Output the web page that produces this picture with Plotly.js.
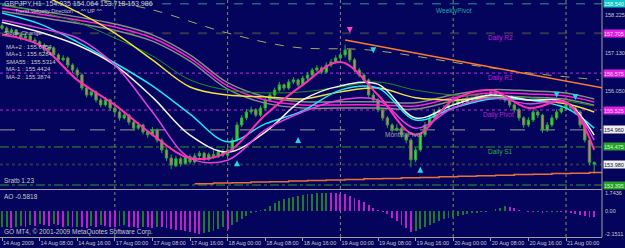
<!DOCTYPE html>
<html><head><meta charset="utf-8">
<script src="https://cdn.plot.ly/plotly-3.0.1.min.js"></script>
<style>html,body{margin:0;padding:0;background:#04045c;}#chart{width:625px;height:248px;}</style>
</head><body><div id="chart"></div>
<script>
// ---- data (GBPJPY H1, 14-21 Aug 2009) ----
const openP = [
157.92,157.85,157.74,157.80,157.66,157.57,157.63,157.51,157.46,157.37,
157.23,157.29,157.09,156.95,157.00,156.80,156.66,156.52,156.15,155.95,
156.04,155.81,155.67,155.81,155.58,155.47,155.30,155.38,155.18,155.01,
155.10,154.90,154.82,154.96,154.67,154.39,154.16,153.94,154.14,154.00,
154.20,154.05,154.22,154.30,154.12,154.26,154.20,154.34,154.24,154.39,
154.67,155.10,155.30,155.47,155.53,155.38,155.58,155.81,155.95,156.09,
156.24,156.15,156.32,156.38,156.24,156.43,156.52,156.66,156.72,156.60,
156.80,156.89,157.00,157.09,157.23,156.95,156.66,156.52,156.38,155.95,
155.81,155.53,155.30,155.10,154.96,155.01,154.82,154.67,154.11,154.39,
154.82,155.10,155.30,155.47,155.53,155.58,155.67,155.70,155.81,155.75,
155.87,155.81,155.92,155.87,155.95,156.04,155.95,155.87,155.81,155.67,
155.53,155.30,155.10,155.24,155.47,155.38,154.96,155.10,155.30,155.47,
155.58,155.67,155.58,155.47,155.10,154.67,154.035];
const highP = [
157.98,157.90,157.86,157.83,157.72,157.70,157.66,157.58,157.50,157.42,
157.36,157.33,157.14,157.08,157.04,156.85,156.73,156.58,156.22,156.12,
156.08,155.87,155.90,155.85,155.64,155.52,155.45,155.42,155.24,155.18,
155.14,154.96,155.04,155.00,154.72,154.45,154.26,154.22,154.20,154.26,
154.26,154.30,154.36,154.34,154.32,154.38,154.40,154.42,154.48,154.74,
155.18,155.38,155.55,155.62,155.58,155.65,155.88,156.02,156.16,156.32,
156.28,156.40,156.46,156.42,156.50,156.60,156.72,156.80,156.77,156.88,
156.97,157.08,157.18,157.38,157.27,157.00,156.72,156.58,156.42,156.02,
155.86,155.58,155.36,155.15,155.12,155.05,154.88,154.72,154.46,154.88,
155.18,155.36,155.54,155.60,155.66,155.74,155.78,155.88,155.86,155.94,
155.91,156.00,155.96,156.02,156.12,156.08,156.00,155.92,155.86,155.72,
155.58,155.35,155.32,155.55,155.52,155.42,155.18,155.38,155.55,155.66,
155.75,155.72,155.62,155.52,155.16,154.72,154.064];
const lowP = [
157.80,157.68,157.70,157.60,157.50,157.54,157.45,157.40,157.30,157.15,
157.18,157.02,156.88,156.90,156.72,156.58,156.44,156.08,155.88,155.90,
155.74,155.60,155.62,155.50,155.40,155.22,155.25,155.10,154.94,154.96,
154.83,154.74,154.78,154.60,154.30,154.08,153.85,153.90,153.92,153.96,
153.98,154.00,154.10,154.06,154.08,154.14,154.16,154.18,154.20,154.34,
154.62,155.04,155.24,155.40,155.32,155.33,155.52,155.76,155.90,156.04,
156.08,156.10,156.26,156.18,156.20,156.37,156.46,156.60,156.54,156.56,
156.74,156.84,156.94,157.02,156.88,156.60,156.45,156.30,155.88,155.74,
155.46,155.22,155.02,154.88,154.92,154.74,154.58,153.90,154.04,154.34,
154.76,155.04,155.24,155.40,155.46,155.52,155.60,155.64,155.68,155.70,
155.74,155.76,155.80,155.82,155.90,155.88,155.80,155.74,155.60,155.45,
155.22,155.02,155.04,155.18,155.30,154.88,154.90,155.04,155.24,155.42,
155.52,155.50,155.40,155.02,154.60,153.96,153.718];
const closeP = [
157.85,157.74,157.80,157.66,157.57,157.63,157.51,157.46,157.37,157.23,
157.29,157.09,156.95,157.00,156.80,156.66,156.52,156.15,155.95,156.04,
155.81,155.67,155.81,155.58,155.47,155.30,155.38,155.18,155.01,155.10,
154.90,154.82,154.96,154.67,154.39,154.16,153.96,154.14,154.00,154.20,
154.05,154.22,154.30,154.12,154.26,154.20,154.34,154.24,154.39,154.67,
155.10,155.30,155.47,155.53,155.38,155.58,155.81,155.95,156.09,156.24,
156.15,156.32,156.38,156.24,156.43,156.52,156.66,156.72,156.60,156.80,
156.89,157.00,157.09,157.23,156.95,156.66,156.52,156.38,155.95,155.81,
155.53,155.30,155.10,154.96,155.01,154.82,154.67,154.11,154.39,154.82,
155.10,155.30,155.47,155.53,155.58,155.67,155.70,155.81,155.75,155.87,
155.81,155.92,155.87,155.95,156.04,155.95,155.87,155.81,155.67,155.53,
155.30,155.10,155.24,155.47,155.38,154.96,155.10,155.30,155.47,155.58,
155.67,155.58,155.47,155.10,154.67,154.04,153.986];
const aoValues = [
-1.5,-1.45,-1.6,-1.5,-1.35,-1.45,-1.3,-1.35,-1.2,-1.3,
-1.35,-1.2,-1.3,-1.45,-1.35,-1.5,-1.45,-1.5,-1.6,-1.35,
-1.45,-1.3,-1.35,-1.45,-1.5,-1.35,-1.3,-1.45,-1.5,-1.6,
-1.45,-1.5,-1.6,-1.45,-1.5,-1.6,-1.7,-1.75,-1.8,-1.85,
-1.95,-2.05,-2.15,-2.1,-2.0,-1.85,-1.7,-1.5,-1.7,-1.3,
-1.0,-0.7,-0.4,-0.2,-0.05,0.1,0.25,0.5,0.8,1.0,
1.15,1.3,1.4,1.5,1.55,1.6,1.65,1.7,1.72,1.7436,
1.73,1.7,1.68,1.6,1.45,1.3,1.1,0.9,0.6,0.3,
0.1,-0.1,-0.3,-0.6,-0.9,-1.3,-1.6,-2.0,-1.9,-1.7,
-1.5,-1.3,-1.1,-0.9,-0.75,-0.6,-0.5,-0.4,-0.35,-0.3,
-0.2,-0.15,-0.1,-0.05,0.05,0.2,0.35,0.5,0.45,0.3,
0.15,0.0,-0.05,-0.1,-0.08,-0.12,-0.1,-0.06,-0.04,-0.08,
-0.1,-0.15,-0.25,-0.35,-0.45,-0.52,-0.5818];

// moving averages read at every 8th bar
const maBars = [0,8,16,24,32,40,48,56,64,72,80,88,96,104,112,120,126];
const maFast = [157.66,157.37,156.38,155.67,154.82,154.16,154.33,155.38,156.24,156.89,155.95,154.82,155.81,156.09,155.58,155.75,154.39];
const maMid = [158.08,157.85,157.57,156.80,155.47,154.16,154.10,154.96,155.47,155.81,155.81,155.01,155.58,155.87,155.70,155.72,154.67];
const maWhite = [158.02,157.74,157.37,156.80,155.89,154.81,154.33,154.90,155.81,156.21,156.26,155.30,155.67,155.95,155.81,155.75,154.81];
const maCyan = [158.28,157.97,157.46,156.86,156.21,155.41,154.62,155.13,155.50,156.09,156.15,155.24,155.58,155.84,155.81,155.58,155.01];
const maYellow = [158.93,158.79,158.31,157.71,156.95,156.18,155.95,155.90,155.84,156.04,156.15,155.87,155.81,155.87,155.81,155.70,155.47];
const maGreen = [158.51,158.31,158.02,157.57,157.06,156.38,156.09,156.01,156.04,156.18,156.32,156.09,155.95,155.92,155.87,155.78,155.64];
const maSlow = [158.42,158.25,158.08,157.88,157.57,157.00,156.21,155.81,155.67,155.67,155.67,155.64,155.87,156.01,155.98,155.92,155.75];
const bandUpper = [158.51,158.34,158.17,157.97,157.66,157.09,156.30,155.90,155.76,155.76,155.76,155.73,155.96,156.10,156.07,156.01,155.84];
const bandLower = [158.33,158.16,157.99,157.79,157.48,156.91,156.12,155.72,155.58,155.58,155.58,155.55,155.78,155.92,155.89,155.83,155.66];
const slowDashBars = [21,32,48,62,78,100,112,127];
const slowDash = [158.65,158.37,157.71,157.31,157.23,156.80,156.58,156.38];
const trendBars = [73,128];
const trendLine = [157.51,156.15];
const stairBars = [41,45,49,53,57,61,65,69,73,77,81,85,89,93,97,101,105,109,113,117,121,125,128];
const stairLine = [153.43,153.45,153.46,153.48,153.49,153.51,153.52,153.54,153.55,153.57,153.58,153.60,153.61,153.63,153.64,153.66,153.67,153.69,153.70,153.72,153.73,153.75,153.75];
const upArrowBars = [50,63,89];
const upArrowPrices = [154.10,154.76,153.91];
const downArrowBars = [79,118,122];
const downArrowPrices = [157.14,155.87,155.81];
const sellArrowBars = [74];
const sellArrowPrices = [157.71];

// levels
const levelPrices = [158.540,157.705,156.575,155.525,154.960,154.475,153.980,153.395];
const levelLabels = ['158.540','157.705','156.575','155.525','154.960','154.475','153.980','153.395'];
const levelNames = ['WeeklyPivot','Daily R2','Daily R1','Daily Pivot','MonthlyPivot','Daily S1','',''];
const daySeparators = [24,48,72,96,120];
const dateTickBars = [0,8,16,24,32,40,48,56,64,72,80,88,96,104,112,120];
const dateTickLabels = ['14 Aug 2009','14 Aug 08:00','14 Aug 16:00','17 Aug 00:00','17 Aug 08:00','17 Aug 16:00','18 Aug 00:00','18 Aug 08:00','18 Aug 16:00','19 Aug 00:00','19 Aug 08:00','19 Aug 16:00','20 Aug 00:00','20 Aug 08:00','20 Aug 16:00','21 Aug 00:00'];
const priceTickVals = [158.225,157.130,156.050];
const priceTickText = ['158.225','157.130','156.050'];
const aoTickVals = [1.7436,0,-2.1511];
const aoTickText = ['1.7436','0.00','-2.1511'];
const maLegend = ['MA+2 : 155.6754','MA+1 : 155.6284','SMA55 : 155.5314','MA-1 : 155.4424','MA-2 : 155.3874'];

// ---- drawing ----
const W = 602, H = 237;
const px = x => x / W;
const py = y => 1 - y / H;
const bars = closeP.map((_, i) => i);
const FONT = '"Liberation Sans", Arial, sans-serif';
const TXT = '#c8c8c8';

const traces = [];
traces.push({type:'candlestick', x:bars, open:openP, high:highP, low:lowP, close:closeP,
  xaxis:'x', yaxis:'y', hoverinfo:'skip', whiskerwidth:0,
  increasing:{line:{color:'#2faa2f',width:1}, fillcolor:'#3ed43e'},
  decreasing:{line:{color:'#2faa2f',width:1}, fillcolor:'#f0609c'}});
function line(xs, ys, color, width, dash, shape){
  traces.push({type:'scatter', mode:'lines', x:xs, y:ys, xaxis:'x', yaxis:'y', hoverinfo:'skip',
    line:{color:color, width:width, dash:dash||'solid', shape:shape||'spline', smoothing:1}});
}
line(slowDashBars, slowDash, '#a8a860', 1, 'dash');
line(maBars, bandUpper, '#8a8a8a', 1.5);
line(maBars, bandLower, '#8a8a8a', 1.5);
line(maBars, maSlow, '#ff20d0', 1.5);
line(maBars, maGreen, '#1f8f1f', 1);
line(maBars, maYellow, '#f0e040', 1.5);
line(maBars, maCyan, '#20e8f0', 1.5);
line(maBars, maWhite, '#f4f4f4', 1.5);
line(maBars, maMid, '#e040e0', 1.5);
line(maBars, maFast, '#ff30b0', 2);
line(trendBars, trendLine, '#ff7a30', 1.5, 'solid', 'linear');
line(stairBars, stairLine, '#e8703a', 1.5, 'solid', 'hv');
traces.push({type:'scatter', mode:'markers', x:upArrowBars, y:upArrowPrices, xaxis:'x', yaxis:'y', hoverinfo:'skip',
  marker:{symbol:'arrow-up', size:6, color:'#20d8e0'}});
traces.push({type:'scatter', mode:'markers', x:downArrowBars, y:downArrowPrices, xaxis:'x', yaxis:'y', hoverinfo:'skip',
  marker:{symbol:'arrow-down', size:6, color:'#20d8e0'}});
traces.push({type:'scatter', mode:'markers', x:sellArrowBars, y:sellArrowPrices, xaxis:'x', yaxis:'y', hoverinfo:'skip',
  marker:{symbol:'arrow-down', size:6, color:'#ff40c0'}});
traces.push({type:'bar', x:bars, y:aoValues, xaxis:'x', yaxis:'y2', hoverinfo:'skip', width:0.4,
  marker:{color:aoValues.map((v,i)=> i===0 || v>=aoValues[i-1] ? '#1f7a2a' : '#c020c8'), line:{width:0}}});

const levelStyles = [
  {color:'#2a9a90', dash:'dash', width:1, box:'#10c8c8', txt:'#e8ffff'},
  {color:'#34344e', dash:'dash', width:2, box:'#e020e0', txt:'#ffd0ff'},
  {color:'#9a20d0', dash:'dot', width:1.2, box:'#e020e0', txt:'#ffd0ff'},
  {color:'#d020d0', dash:'dot', width:1.2, box:'#e020e0', txt:'#ffd0ff'},
  {color:'#9a9a9a', dash:'longdash', width:1, box:'#f0f0f0', txt:'#101040'},
  {color:'#2a9a2a', dash:'dashdot', width:1, box:'#2aa02a', txt:'#c8ffc8'},
  {color:'#30304c', dash:'dot', width:2, box:'#f0f0f0', txt:'#101040'},
  {color:'#2a9a2a', dash:'dashdot', width:1, box:'#2aa02a', txt:'#c8ffc8'}];
const nameColors = ['#20a8a0','#c020d0','#c020d0','#c020d0','#a0a0a0','#30b030','',''];
const nameBars = [92,103,103,102,81,103,0,0];

const shapes = [];
const annotations = [];
levelPrices.forEach((p,i)=>{
  const s = levelStyles[i];
  shapes.push({type:'line', xref:'paper', x0:0, x1:1, yref:'y', y0:p, y1:p, layer:'below',
    line:{color:s.color, width:s.width, dash:s.dash}});
  annotations.push({xref:'paper', x:1, xanchor:'left', yref:'y', y:p, yanchor:'middle', text:levelLabels[i],
    showarrow:false, bgcolor:s.box, borderpad:0, xshift:1, height:7, width:21, align:'left',
    font:{family:FONT, size:5.5, color:s.txt}});
  if (levelNames[i]) annotations.push({xref:'x', x:nameBars[i], xanchor:'left', yref:'y', y:p, yanchor:'top', yshift:i===0?-1:1,
    text:levelNames[i], showarrow:false, font:{family:FONT, size:6.5, color:nameColors[i]}});
});
daySeparators.forEach(b=>{
  shapes.push({type:'line', xref:'x', x0:b, x1:b, yref:'paper', y0:0, y1:1, layer:'below',
    line:{color:'#8a8a62', width:1, dash:'dot'}});
});
shapes.push({type:'line', xref:'paper', x0:0, x1:1, yref:'paper', y0:py(189.5), y1:py(189.5), line:{color:'#a0a0a0', width:1}});
shapes.push({type:'line', xref:'paper', x0:1, x1:1, yref:'paper', y0:0, y1:1, line:{color:'#a0a0a0', width:1}});

function label(x, y, text, color, size){
  annotations.push({xref:'paper', yref:'paper', x:px(x), y:py(y), xanchor:'left', yanchor:'middle',
    text:text, showarrow:false, font:{family:FONT, size:size||6.5, color:color||TXT}});
}
label(2, 3.5, 'GBPJPY,H1  154.035 154.064 153.718 153.986', TXT, 7);
label(13, 11.5, 'Trend Velocity Direction  ~ ^^ UP ^^', TXT, 5.5);
label(2, 33, 'Slope Change', TXT, 6);
const maY = [47,54,62,69,77];
maLegend.forEach((t,i)=>label(4, maY[i], t, TXT, 6));
label(2, 180, 'Sratb 1.23', TXT, 6.5);
label(2, 196, 'AO -0.5818', TXT, 6.5);
label(2, 232, 'GO MT4, \u00a9 2001-2009 MetaQuotes Software Corp.', TXT, 6.5);

const layout = {
  width:625, height:248, margin:{l:0, r:23, t:0, b:11},
  paper_bgcolor:'#04045c', plot_bgcolor:'#04045c', showlegend:false, dragmode:false,
  font:{family:FONT, size:6, color:TXT},
  xaxis:{anchor:'y2', range:[-0.43,127.66], tickvals:dateTickBars, ticktext:dateTickLabels, tickangle:0,
    ticklabelposition:'outside right', ticks:'outside', ticklen:3, tickcolor:'#a0a0a0', ticklabelstandoff:0,
    showgrid:false, zeroline:false, showline:true, linecolor:'#a0a0a0', linewidth:1,
    rangeslider:{visible:false}, tickfont:{family:FONT, size:5.5, color:TXT}},
  yaxis:{domain:[py(188),1], range:[158.649-0.0284*188, 158.649], side:'right', tickvals:priceTickVals, ticktext:priceTickText,
    ticks:'', ticklabelstandoff:2, showgrid:false, zeroline:false, showline:false,
    tickfont:{family:FONT, size:5.5, color:TXT}},
  yaxis2:{domain:[0,py(191)], range:[-2.44,1.93], side:'right', tickvals:aoTickVals, ticktext:aoTickText,
    ticks:'', ticklabelstandoff:2, showgrid:false, zeroline:false, showline:false,
    tickfont:{family:FONT, size:5.5, color:TXT}},
  shapes:shapes, annotations:annotations, bargap:0
};
Plotly.newPlot('chart', traces, layout, {staticPlot:true, displayModeBar:false});
</script>
</body></html>
